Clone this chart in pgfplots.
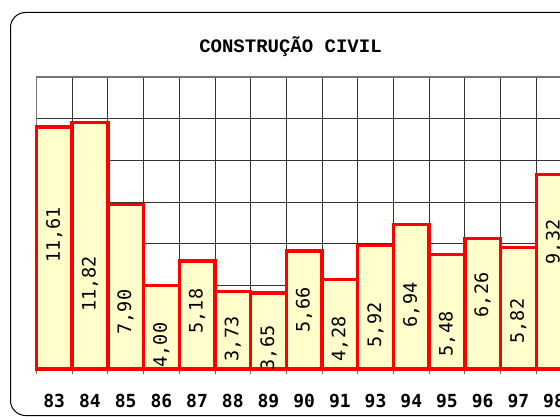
\documentclass[border=0pt]{standalone}
\usepackage{pgfplots}
\usepackage{pgfplotstable}
\usepackage{fontspec}
\pgfplotsset{compat=1.18}
\setmainfont{DejaVu Sans}
\setmonofont{DejaVu Sans Mono}
\newfontfamily\titlefont{Liberation Mono}
\definecolor{barfill}{RGB}{255,255,204}
\definecolor{gridc}{RGB}{50,50,50}
\pgfplotstableread{
x lab val pos
0  83 11.61 6.42
1  84 11.82 4.08
2  85 7.90  2.73
3  86 4.00  1.15
4  87 5.18  2.78
5  88 3.73  1.44
6  89 3.65  1.01
7  90 5.66  2.83
8  91 4.28  1.44
9  93 5.92  2.11
10 94 6.94  3.07
11 95 5.48  1.68
12 96 6.26  3.55
13 97 5.82  2.30
14 98 9.32  6.09
}\data
\pgfplotstableread{
x pos txt
0  6.42 11,61
1  4.08 11,82
2  2.73 7,90
3  1.15 4,00
4  2.78 5,18
5  1.44 3,73
6  1.01 3,65
7  2.83 5,66
8  1.44 4,28
9  2.11 5,92
10 3.07 6,94
11 1.68 5,48
12 3.55 6,26
13 2.30 5,82
14 6.09 9,32
}\labels
\begin{document}
\begin{tikzpicture}[x=1pt,y=1pt]
\useasboundingbox (0,0) rectangle (560,416);
\clip (0,0) rectangle (560,416);
\draw[black, line width=1pt, rounded corners=15pt] (10.5,0.5) rectangle (620,403.5);
\node[font=\titlefont\bfseries\fontsize{19}{22}\selectfont] at (290.5,369) {CONSTRUÇÃO CIVIL};
\begin{axis}[
  anchor=south west, at={(36.4pt,47pt)},
  x=35.7pt, y=20.857pt,
  xmin=-0.5, xmax=15.5, ymin=0, ymax=14,
  axis line style={black!55, line width=1.2pt},
  xtick pos=bottom, ytick pos=left,
  xtick={0,...,14},
  xticklabels={83,84,85,86,87,88,89,90,91,93,94,95,96,97,98},
  minor xtick={-0.5,0.5,...,15.5},
  xminorgrids=true,
  ytick={0,2,...,14},
  yticklabels={},
  ymajorgrids=true,
  grid style={gridc, line width=0.8pt},
  minor grid style={gridc, line width=0.8pt},
  major tick length=0pt,
  minor tick length=5pt,
  tick align=outside,
  minor tick style={black!60, line width=0.8pt},
  xticklabel style={font=\ttfamily\bfseries\fontsize{18}{20}\selectfont, yshift=-22pt},
  /pgf/number format/assume math mode=true,
  clip=false,
]
\addplot[ybar, bar width=1, fill=barfill, draw=none] table[x=x, y=val] {\data};
\addplot[ybar, bar width=1, fill=none, draw=red, line width=3.4pt] table[x=x, y=val] {\data};
\addplot[draw=none, mark=none, nodes near coords, point meta=explicit symbolic,
  nodes near coords style={rotate=90, anchor=center, font=\ttfamily\fontsize{18.5}{20}\selectfont, inner sep=0pt}]
  table[x=x, y=pos, meta=txt] {\labels};
\end{axis}
\end{tikzpicture}
\end{document}
